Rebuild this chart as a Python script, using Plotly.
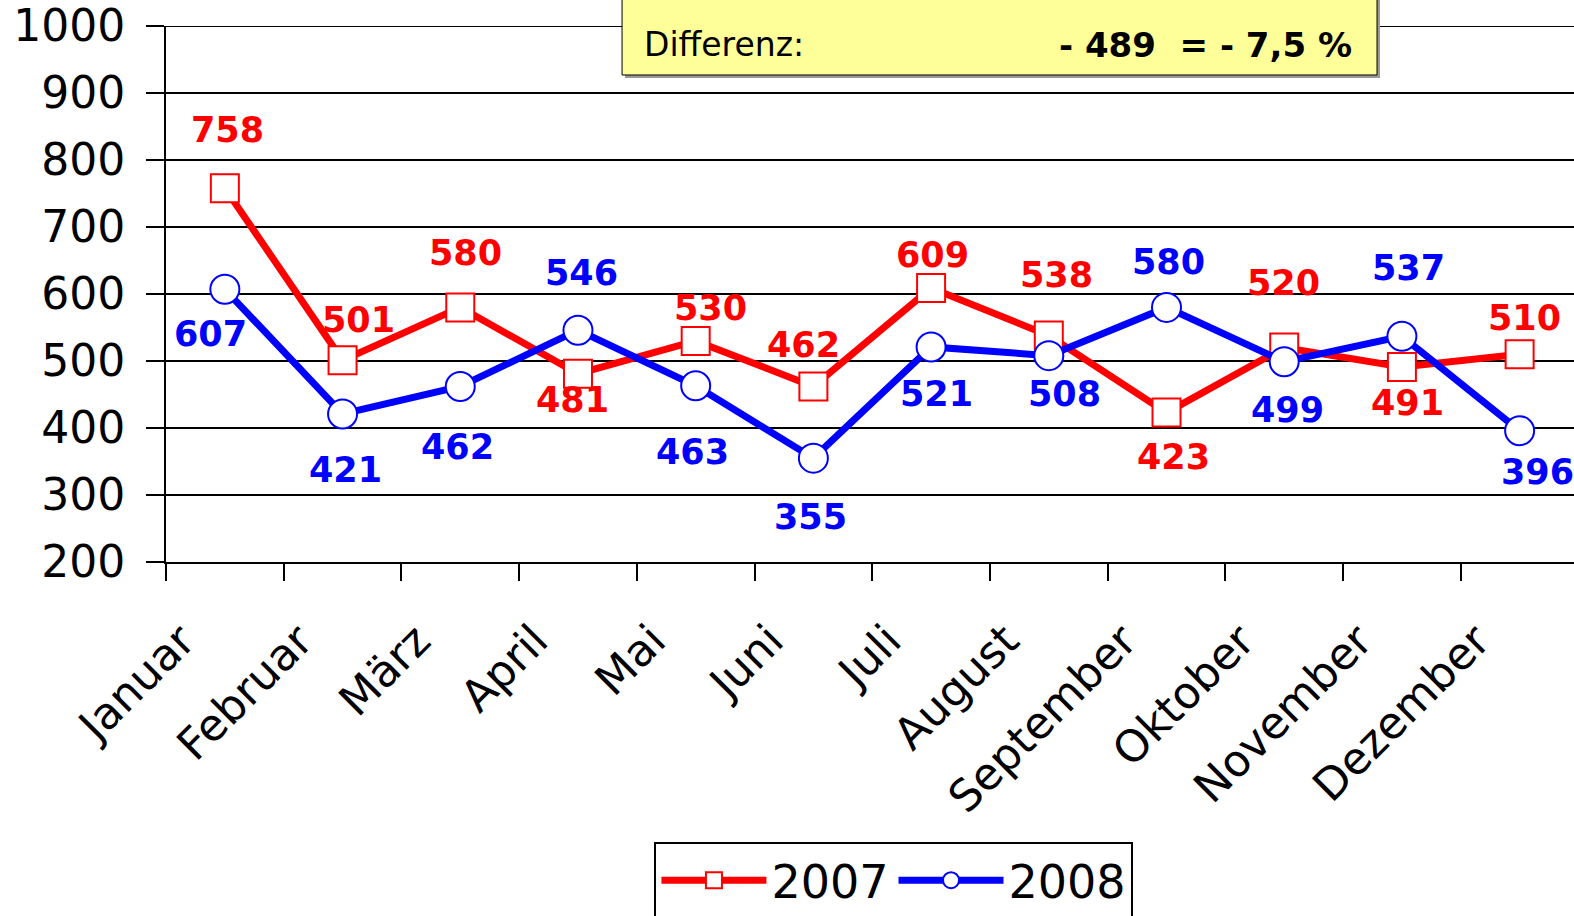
import plotly.graph_objects as go

months = ["Januar", "Februar", "März", "April", "Mai", "Juni", "Juli",
          "August", "September", "Oktober", "November", "Dezember"]
values_2007 = [758, 501, 580, 481, 530, 462, 609, 538, 423, 520, 491, 510]
values_2008 = [607, 421, 462, 546, 463, 355, 521, 508, 580, 499, 537, 396]
diff_label = "Differenz:"
diff_value = "- 489  = - 7,5 %"

# label placement offsets (pixels) for the data labels
lbl07_dx = [3, 16, 5, -5, 15, -10, 1, 8, 7, -1, 6, 5]
lbl07_dy = [58, 40, 54, -26, 33, 41, 33, 61, -44, 65, -36, 36]
lbl08_dx = [-14, 3, -3, 4, -3, -3, 5, 16, 2, 3, 7, 18]
lbl08_dy = [-45, -56, -61, 57, -66, -59, -47, -38, 45, -48, 68, -41]

RED = "#FF0000"
BLUE = "#0000FF"
FONT = "DejaVu Sans"

fig = go.Figure()
fig.add_trace(go.Scatter(
    x=months, y=values_2007, name="2007", mode="lines+markers",
    line=dict(color=RED, width=7),
    marker=dict(symbol="square", size=28, color="white",
                line=dict(color=RED, width=2)),
))
fig.add_trace(go.Scatter(
    x=months, y=values_2008, name="2008", mode="lines+markers",
    line=dict(color=BLUE, width=7),
    marker=dict(symbol="circle", size=29, color="white",
                line=dict(color=BLUE, width=2)),
))

annotations = []
for m, v, dx, dy in zip(months, values_2007, lbl07_dx, lbl07_dy):
    annotations.append(dict(x=m, y=v, text=f"<b>{v}</b>", showarrow=False,
                            xshift=dx, yshift=dy,
                            font=dict(family=FONT, size=35, color=RED)))
for m, v, dx, dy in zip(months, values_2008, lbl08_dx, lbl08_dy):
    annotations.append(dict(x=m, y=v, text=f"<b>{v}</b>", showarrow=False,
                            xshift=dx, yshift=dy,
                            font=dict(family=FONT, size=35, color=BLUE)))

# Differenz box texts
annotations.append(dict(xref="paper", yref="paper", x=0.338, y=0.9646,
                        xanchor="left", yanchor="middle", showarrow=False,
                        text=diff_label,
                        font=dict(family=FONT, size=33, color="black")))
annotations.append(dict(xref="paper", yref="paper", x=0.8438, y=0.9646,
                        xanchor="right", yanchor="middle", showarrow=False,
                        text="<b>" + diff_value.replace("  ", "\u00a0\u00a0") + "</b>",
                        font=dict(family=FONT, size=34, color="black")))

shapes = [
    # top gridline at 1000
    dict(type="line", xref="paper", yref="y", x0=0, x1=1, y0=1000, y1=1000,
         line=dict(color="black", width=2), layer="below"),
    # shadow of the box
    dict(type="rect", xref="paper", yref="paper",
         x0=0.3260, x1=0.8622, y0=0.9030, y1=1.2,
         fillcolor="#999999", line=dict(width=0), layer="above"),
    dict(type="rect", xref="paper", yref="paper",
         x0=0.3239, x1=0.8601, y0=0.9086, y1=1.2,
         fillcolor="#FFFF99", line=dict(color="black", width=1), layer="above"),
]

fig.update_layout(
    width=1574, height=916,
    paper_bgcolor="white", plot_bgcolor="white",
    margin=dict(l=166, r=0, t=26, b=354, autoexpand=False),
    showlegend=True,
    legend=dict(orientation="h", xanchor="center", x=0.517,
                yanchor="top", y=-0.522,
                bordercolor="black", borderwidth=2, bgcolor="white",
                font=dict(family=FONT, size=46, color="black"),
                itemwidth=105, tracegroupgap=0),
    annotations=annotations,
    shapes=shapes,
    xaxis=dict(
        type="category", range=[-0.5, 11.462], automargin=False,
        tickson="boundaries", ticks="outside", ticklen=17, tickwidth=2,
        tickcolor="black", showgrid=False,
        showline=True, linecolor="black", linewidth=2,
        tickangle=-45, ticklabelshift=-43, ticklabelstandoff=33,
        tickfont=dict(family=FONT, size=44, color="black"),
    ),
    yaxis=dict(
        range=[200, 1000], dtick=100, tick0=200, automargin=False,
        ticks="outside", ticklen=18, tickwidth=2, tickcolor="black",
        showgrid=True, gridcolor="black", gridwidth=2,
        showline=True, linecolor="black", linewidth=2,
        zeroline=False, ticklabelstandoff=12,
        tickfont=dict(family=FONT, size=44, color="black"),
    ),
)

fig.write_html("out.html", config={"displayModeBar": False},
               post_script="document.body.style.margin='0';document.body.style.overflow='hidden';")
